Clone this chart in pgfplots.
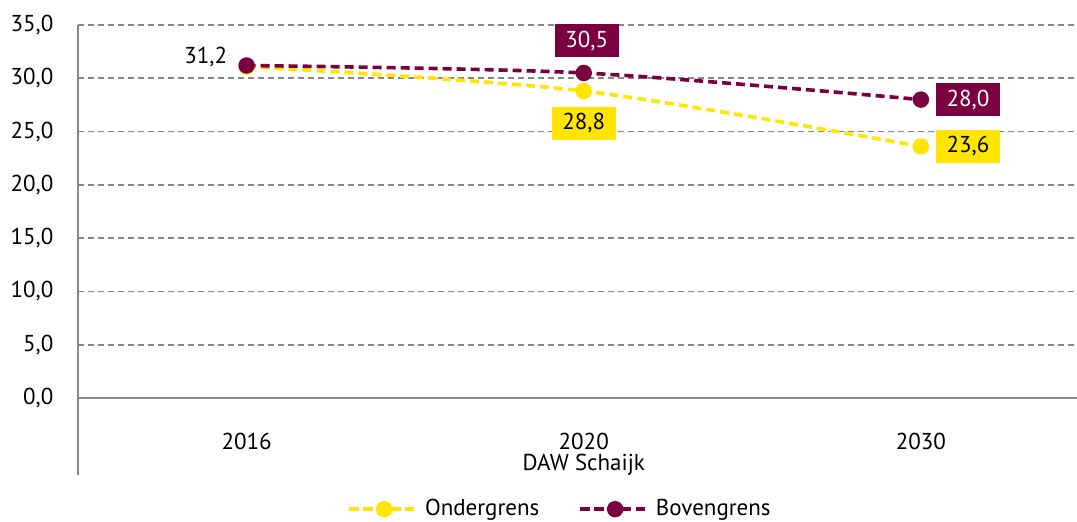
\documentclass[border=0pt]{standalone}
\usepackage{fontspec}
\setmainfont{PT Sans}
\usepackage{pgfplots}
\pgfplotsset{compat=1.18}
\definecolor{geel}{HTML}{FFE500}
\definecolor{paars}{HTML}{7A0040}
\definecolor{raster}{HTML}{878787}
\newcommand{\lblfont}{\fontsize{11.5}{13}\selectfont}

\begin{document}
\begin{tikzpicture}
\begin{axis}[
  name=ax,
  scale only axis, width=499.5pt, height=186.5pt,
  xmin=-0.5, xmax=2.463, ymin=0, ymax=35,
  xtick={0,1,2}, xticklabels={2016,2020,2030},
  ytick={0,5,...,35},
  axis x line=bottom, axis y line=left,
  axis line style={raster, line width=0.9pt, -},
  tick style={draw=none},
  ymajorgrids, grid style={raster, line width=0.9pt, dash pattern=on 3pt off 2pt},
  tick label style={font=\lblfont},
  /pgf/number format/assume math mode=true,
  yticklabel={\pgfmathprintnumber[fixed,fixed zerofill,precision=1,use comma]{\tick}},
  yticklabel style={anchor=east, inner sep=0pt, xshift=-10pt},
  xticklabel style={anchor=base, inner sep=0pt, yshift=-23.5pt},
  clip=false,
  legend columns=2,
  legend style={draw=none, fill=none, font=\lblfont, at={(0.4835,-0.298)}, anchor=center,
    /tikz/every even column/.append style={column sep=17.5pt}},
  legend image code/.code={\draw[mark repeat=2,mark phase=2,#1] plot coordinates {(0pt,0pt)(17.5pt,0pt)(35pt,0pt)};},
]
\addplot[geel, line width=1.8pt, dash pattern=on 4.5pt off 2.5pt, smooth, mark=*, mark size=3.2pt, mark options={solid}]
  coordinates {(0,31.1) (1,28.8) (2,23.6)};
\addplot[paars, line width=1.8pt, dash pattern=on 4.5pt off 2.5pt, smooth, mark=*, mark size=3.2pt, mark options={solid}]
  coordinates {(0,31.2) (1,30.5) (2,28.0)};
\legend{Ondergrens,Bovengrens}

\node[anchor=east, inner sep=0pt, font=\lblfont] at (axis cs:0,31.2) [xshift=-9.5pt, yshift=4pt] {31,2};
\node[fill=paars, text=white, font=\lblfont, minimum width=32pt, minimum height=16.5pt, inner sep=0pt]
  at (axis cs:1,30.5) [xshift=1.5pt, yshift=16pt] {30,5};
\node[fill=geel, text=black, font=\lblfont, minimum width=32pt, minimum height=16.5pt, inner sep=0pt]
  at (axis cs:1,28.8) [yshift=-16pt] {28,8};
\node[fill=paars, text=white, font=\lblfont, minimum width=32pt, minimum height=16.5pt, inner sep=0pt]
  at (axis cs:2,28.0) [xshift=23.5pt] {28,0};
\node[fill=geel, text=black, font=\lblfont, minimum width=32pt, minimum height=16.5pt, inner sep=0pt]
  at (axis cs:2,23.6) [xshift=23.5pt] {23,6};
\node[anchor=base, inner sep=0pt, font=\lblfont] at (axis cs:1,0) [yshift=-36pt] {DAW Schaijk};
\end{axis}
\draw[raster, line width=0.9pt] (ax.south west) -- ([yshift=-38.5pt]ax.south west);
\pgfresetboundingbox
\path ([xshift=-39pt, yshift=-61.5pt]ax.south west) rectangle ([yshift=12.5pt]ax.north east);
\end{tikzpicture}
\end{document}
